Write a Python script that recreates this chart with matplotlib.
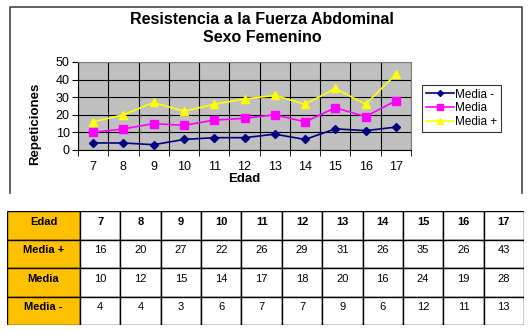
import matplotlib
matplotlib.use("Agg")
import matplotlib.pyplot as plt
from matplotlib.patches import Rectangle
from matplotlib.lines import Line2D

plt.rcParams['font.family'] = ['Liberation Sans', 'DejaVu Sans']

edad = [7, 8, 9, 10, 11, 12, 13, 14, 15, 16, 17]
media_mas = [16, 20, 27, 22, 26, 29, 31, 26, 35, 26, 43]
media = [10, 12, 15, 14, 17, 18, 20, 16, 24, 19, 28]
media_menos = [4, 4, 3, 6, 7, 7, 9, 6, 12, 11, 13]
row_labels = ["Edad", "Media +", "Media", "Media -"]

W, H = 531, 331
fig = plt.figure(figsize=(W / 100, H / 100), dpi=100)

def fbox(x0, y0, x1, y1):
    # pixel box (top-left origin) -> figure fractions
    return [x0 / W, 1 - y1 / H, (x1 - x0) / W, (y1 - y0) / H]

# chart frame (open at the bottom, like the cropped screenshot)
frame = fig.add_axes([0, 0, 1, 1])
frame.set_xlim(0, W)
frame.set_ylim(H, 0)
frame.axis("off")
frame.plot([10, 10, 522, 522], [193, 7, 7, 193], color="#444444", lw=1.2)

fig.text(262 / W, 1 - 20 / H, "Resistencia a la Fuerza Abdominal", ha="center", va="center",
         fontsize=11.5, fontweight="bold")
fig.text(262 / W, 1 - 38 / H, "Sexo Femenino", ha="center", va="center",
         fontsize=11.5, fontweight="bold")

ax = fig.add_axes(fbox(78, 62, 411, 150))
x = list(range(len(edad)))
ax.set_facecolor("#C0C0C0")
ax.plot(x, media_menos, color="#000080", marker="D", ms=4, lw=1.2, label="Media -")
ax.plot(x, media, color="#FF00FF", marker="s", ms=6, lw=1.2, label="Media")
ax.plot(x, media_mas, color="#FFFF00", marker="^", ms=6, lw=1.2, label="Media +")
ax.set_xlim(-0.5, len(edad) - 0.5)
ax.set_ylim(0, 50)
ax.set_yticks([0, 10, 20, 30, 40, 50])
ax.set_xticks(x)
ax.set_xticklabels([str(e) for e in edad])
ax.set_xticks([i - 0.5 for i in range(len(edad) + 1)], minor=True)
ax.grid(True, axis="y", color="black", lw=0.8)
ax.grid(True, axis="x", which="minor", color="black", lw=0.8)
ax.tick_params(axis="x", which="major", length=0, labelsize=9, pad=8)
ax.tick_params(axis="x", which="minor", length=4, direction="out")
ax.tick_params(axis="y", labelsize=9, length=4, pad=2)
for s in ax.spines.values():
    s.set_color("#808080")
ax.spines["bottom"].set_color("black")
ax.spines["left"].set_color("black")
ax.set_ylabel("Repeticiones", fontsize=9.5, fontweight="bold")
ax.yaxis.set_label_coords((41 - 78) / 333, (150 - 124) / 88)
ax.set_xlabel("Edad", fontsize=9.5, fontweight="bold", labelpad=0)

handles = [
    Line2D([], [], color="#000080", marker="D", ms=3, lw=1.2),
    Line2D([], [], color="#FF00FF", marker="s", ms=5, lw=1.2),
    Line2D([], [], color="#FFFF00", marker="^", ms=5, lw=1.2),
]
leg = fig.legend(handles, ["Media -", "Media", "Media +"], loc="upper left",
                 bbox_to_anchor=(422 / W, 1 - 85 / H), fontsize=8.5, frameon=True,
                 fancybox=False, edgecolor="black", handlelength=2.4,
                 handletextpad=0.1, borderpad=0.3, labelspacing=0.15, borderaxespad=0)
leg.get_frame().set_linewidth(0.8)

# data table
tab = fig.add_axes(fbox(7, 211, 524, 325))
tab.set_xlim(0, 1)
tab.set_ylim(len(row_labels), 0)
tab.axis("off")
first_w = (80 - 7) / (524 - 7)
col_w = (1 - first_w) / len(edad)
rows = [edad, media_mas, media, media_menos]
for r, (lab, vals) in enumerate(zip(row_labels, rows)):
    tab.add_patch(Rectangle((0, r), first_w, 1, facecolor="#FFC000", edgecolor="black", lw=1))
    tab.text(first_w / 2, r + 0.2, lab, ha="center", va="top", fontsize=8, fontweight="bold")
    for c, v in enumerate(vals):
        x0 = first_w + c * col_w
        tab.add_patch(Rectangle((x0, r), col_w, 1, facecolor="white", edgecolor="black", lw=1))
        tab.text(x0 + col_w / 2, r + 0.2, str(v), ha="center", va="top", fontsize=8,
                 fontweight="bold" if r == 0 else "normal")

fig.savefig("out.png", dpi=100)
